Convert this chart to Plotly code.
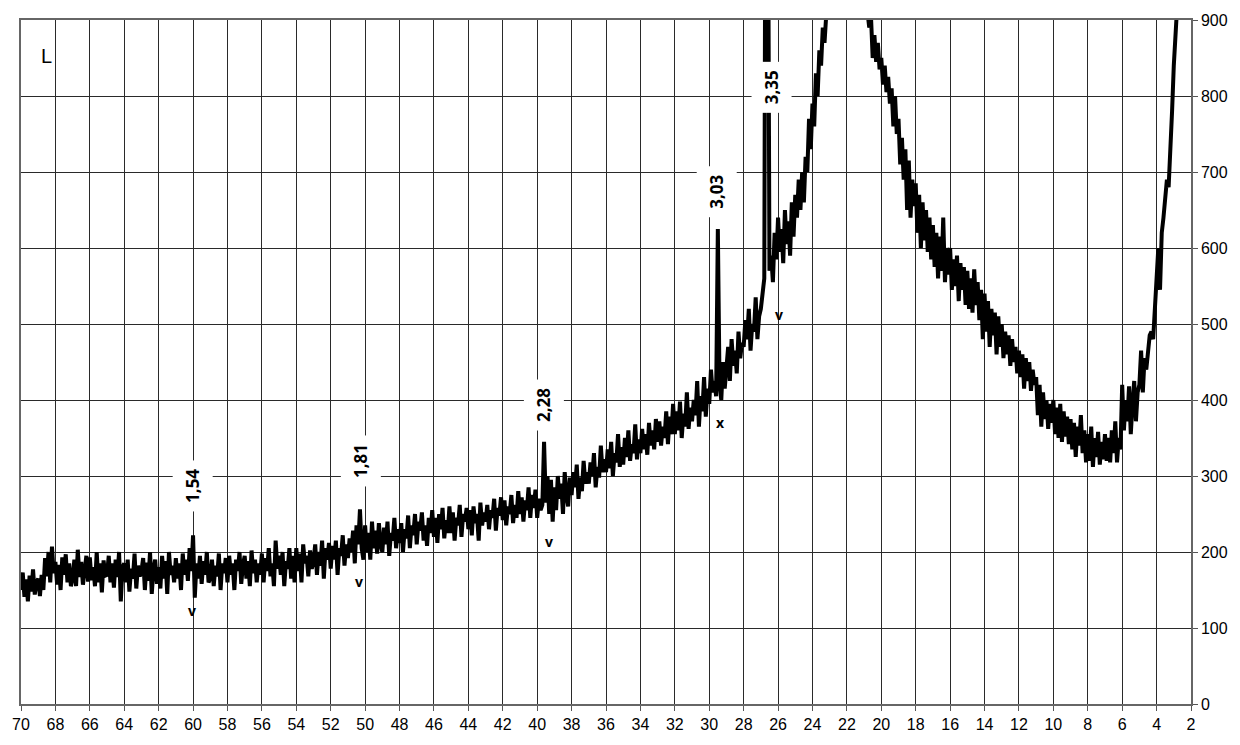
import numpy as np
import plotly.graph_objects as go

# 2-theta sampling grid (degrees), descending 70.0 -> 2.6 in steps of 0.1
two_theta = np.round(np.arange(70.0, 2.55, -0.1), 1)

# Intensity, one row per degree (X.0 down to (X-1).1)
counts_70_60 = [150, 173, 141, 164, 135, 169, 148, 177, 144, 160,
                165, 142, 170, 150, 192, 168, 200, 160, 207, 172,
                187, 157, 183, 150, 193, 170, 197, 160, 185, 155,
                165, 190, 155, 203, 167, 187, 157, 181, 195, 161,
                193, 163, 180, 155, 200, 160, 185, 147, 189, 169,
                170, 195, 160, 185, 153, 190, 167, 200, 135, 180,
                185, 160, 190, 148, 178, 165, 198, 152, 182, 168,
                175, 192, 150, 186, 162, 200, 145, 178, 190, 158,
                180, 152, 195, 165, 188, 145, 200, 170, 182, 160,
                192, 165, 185, 150, 198, 170, 190, 162, 205, 175]
counts_60_50 = [222, 140, 185, 165, 195, 158, 188, 170, 200, 160,
                165, 190, 155, 182, 168, 198, 150, 185, 172, 192,
                160, 195, 170, 185, 150, 190, 175, 200, 158, 183,
                195, 165, 188, 155, 202, 172, 190, 160, 185, 170,
                198, 160, 192, 175, 205, 168, 185, 155, 215, 178,
                195, 170, 200, 155, 188, 178, 205, 165, 195, 160,
                205, 175, 198, 160, 210, 185, 195, 168, 202, 178,
                188, 210, 170, 200, 182, 215, 165, 205, 190, 212,
                178, 208, 190, 215, 170, 205, 195, 222, 182, 210,
                192, 218, 200, 228, 185, 235, 210, 256, 205, 190]
counts_50_40 = [235, 200, 225, 190, 240, 205, 228, 198, 238, 210,
                200, 232, 210, 240, 195, 225, 215, 245, 205, 230,
                212, 238, 200, 230, 218, 248, 205, 235, 222, 250,
                210, 240, 228, 252, 215, 235, 208, 245, 225, 255,
                220, 245, 212, 250, 230, 258, 218, 242, 225, 260,
                225, 252, 215, 245, 235, 262, 220, 250, 240, 258,
                230, 255, 222, 260, 238, 250, 215, 265, 235, 252,
                240, 262, 230, 255, 245, 270, 228, 258, 248, 272,
                242, 268, 235, 260, 250, 275, 238, 262, 245, 280,
                250, 272, 240, 268, 255, 285, 245, 275, 258, 282]
counts_40_30 = [245, 270, 255, 262, 345, 265, 300, 250, 295, 240,
                285, 255, 300, 270, 290, 250, 305, 275, 260, 298,
                275, 305, 285, 315, 270, 298, 280, 320, 290, 305,
                290, 318, 300, 330, 285, 312, 298, 340, 305, 322,
                305, 335, 310, 345, 300, 330, 318, 355, 312, 338,
                315, 350, 325, 360, 320, 342, 330, 368, 322, 348,
                330, 362, 335, 355, 328, 370, 340, 360, 335, 375,
                345, 372, 340, 365, 350, 385, 342, 378, 355, 395,
                355, 385, 360, 398, 350, 382, 365, 410, 362, 390,
                372, 400, 380, 425, 365, 405, 385, 430, 378, 415]
counts_30_20 = [395, 440, 410, 425, 405, 625, 420, 400, 450, 415,
                440, 470, 425, 480, 445, 465, 435, 490, 455, 475,
                470, 505, 480, 520, 465, 500, 490, 535, 480, 510,
                520, 545, 560, 1400, 1200, 570, 590, 555, 620, 585,
                640, 595, 625, 580, 650, 605, 635, 590, 660, 615,
                670, 640, 690, 650, 700, 660, 720, 700, 770, 730,
                790, 760, 830, 800, 860, 840, 890, 870, 920, 950,
                980, 1000, 1020, 1040, 1060, 1075, 1090, 1100, 1110, 1115,
                1120, 1118, 1112, 1100, 1090, 1075, 1060, 1040, 1010, 980,
                960, 930, 910, 890, 905, 850, 880, 845, 870, 835]
counts_20_10 = [850, 815, 840, 805, 825, 790, 810, 760, 800, 750,
                770, 710, 745, 690, 730, 650, 715, 640, 690, 655,
                685, 620, 670, 600, 660, 610, 650, 595, 640, 585,
                630, 575, 620, 560, 615, 570, 640, 555, 600, 565,
                600, 545, 585, 550, 590, 530, 580, 545, 575, 525,
                570, 520, 560, 515, 572, 525, 555, 505, 545, 480,
                540, 490, 530, 470, 520, 485, 515, 460, 510, 470,
                500, 455, 490, 460, 485, 445, 480, 450, 470, 435,
                465, 430, 460, 415, 455, 425, 450, 412, 440, 420,
                430, 380, 420, 365, 410, 375, 400, 362, 395, 370]
counts_10_3 = [400, 355, 390, 350, 395, 345, 385, 352, 378, 342,
               375, 335, 370, 325, 365, 340, 380, 330, 360, 318,
               355, 320, 365, 312, 350, 325, 358, 315, 345, 322,
               355, 320, 350, 318, 360, 330, 372, 318, 350, 335,
               420, 360, 400, 372, 418, 355, 395, 425, 372, 410,
               420, 465, 410, 455, 440, 470, 485, 490, 480, 520,
               560, 600, 545, 620, 640, 660, 690, 680, 720, 780,
               840, 870, 920, 980, 1050]

intensity = (counts_70_60 + counts_60_50 + counts_50_40 + counts_40_30
             + counts_30_20 + counts_20_10 + counts_10_3)

# d-spacing labels (text, x position, y position)
d_labels = ["1,54", "1,81", "2,28", "3,03", "3,35"]
d_label_x = [60.0, 50.23, 39.62, 29.55, 26.37]
d_label_y = [287, 320, 393, 674, 811]

# phase markers
mark_text = ["v", "v", "v", "v", "x"]
mark_x = [60.09, 50.35, 39.33, 25.94, 29.36]
mark_y = [123, 161, 214, 512, 371]

x_ticks = list(range(70, 1, -2))
y_ticks = list(range(0, 901, 100))

fig = go.Figure()
fig.add_trace(go.Scatter(
    x=two_theta[:len(intensity)], y=intensity, mode="lines",
    line=dict(color="black", width=4),
    showlegend=False, hoverinfo="skip",
))

annotations = []
for t, x, y in zip(d_labels, d_label_x, d_label_y):
    annotations.append(dict(
        x=x, y=y, xref="x", yref="y", text=t, showarrow=False,
        textangle=-90, bgcolor="white", borderpad=8,
        font=dict(family="Open Sans, Liberation Sans, Arial", size=17,
                  color="black", weight="bold"),
    ))
for t, x, y in zip(mark_text, mark_x, mark_y):
    annotations.append(dict(
        x=x, y=y, xref="x", yref="y", text=t, showarrow=False,
        font=dict(family="Open Sans, Liberation Sans, Arial", size=14,
                  color="black", weight="bold"),
    ))
annotations.append(dict(
    x=68.49, y=852, xref="x", yref="y", text="L", showarrow=False,
    font=dict(family="Liberation Sans, Arial", size=20, color="black"),
))

axis_common = dict(
    showgrid=True, gridcolor="#2a2a2a", gridwidth=1.3,
    showline=True, linecolor="#666666", linewidth=1.5, mirror=True,
    ticks="outside", ticklen=5, tickcolor="#555555", tickwidth=1.3,
    zeroline=False,
    tickfont=dict(family="Liberation Sans, Arial", size=16, color="black"),
)

fig.update_layout(
    width=1240, height=745,
    margin=dict(l=19, r=48, t=19, b=37),
    plot_bgcolor="white", paper_bgcolor="white",
    annotations=annotations,
    hovermode=False,
    xaxis=dict(range=[70, 2], tickmode="array", tickvals=x_ticks,
               ticktext=[str(v) for v in x_ticks], **axis_common),
    yaxis=dict(range=[0, 900], side="right", tickmode="array", tickvals=y_ticks,
               ticktext=[str(v) for v in y_ticks], **axis_common),
)

fig.write_html(
    "out.html",
    config={"displayModeBar": False},
    post_script="document.body.style.margin='0';document.body.style.overflow='hidden';",
)
